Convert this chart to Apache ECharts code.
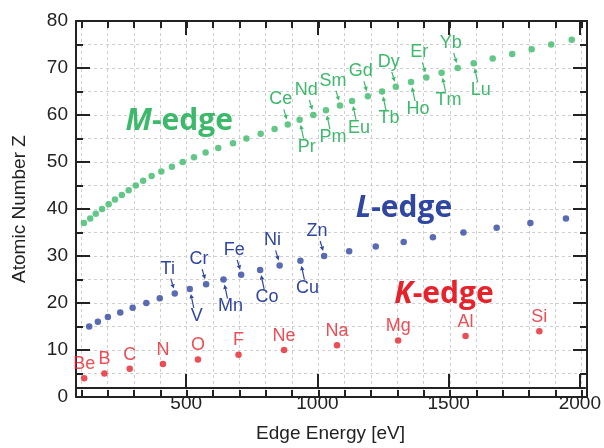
<!DOCTYPE html>
<html>
<head>
<meta charset="utf-8">
<script src="https://cdn.jsdelivr.net/npm/echarts@6/dist/echarts.min.js"></script>
<style>
  html, body { margin: 0; padding: 0; background: #fff; }
  #chart { width: 604px; height: 448px; }
</style>
</head>
<body>
<div id="chart"></div>
<script>
// K-edge energies (eV), Z = 4..14
const kSymbols = ['Be', 'B', 'C', 'N', 'O', 'F', 'Ne', 'Na', 'Mg', 'Al', 'Si'];
const kZ = [4, 5, 6, 7, 8, 9, 10, 11, 12, 13, 14];
const kEnergy = [111, 188, 284, 410, 543, 697, 870, 1071, 1303, 1559, 1839];

// L-edge energies (eV), Z = 15..38
const lSymbols = ['P', 'S', 'Cl', 'Ar', 'K', 'Ca', 'Sc', 'Ti', 'V', 'Cr', 'Mn', 'Fe',
  'Co', 'Ni', 'Cu', 'Zn', 'Ga', 'Ge', 'As', 'Se', 'Br', 'Kr', 'Rb', 'Sr'];
const lZ = [15, 16, 17, 18, 19, 20, 21, 22, 23, 24, 25, 26,
  27, 28, 29, 30, 31, 32, 33, 34, 35, 36, 37, 38];
const lEnergy = [130, 163, 201, 248, 295, 347, 398, 455, 512, 574, 640, 707,
  779, 853, 932, 1022, 1117, 1218, 1324, 1435, 1551, 1677, 1805, 1940];
const lLabeled = ['Ti', 'V', 'Cr', 'Mn', 'Fe', 'Co', 'Ni', 'Cu', 'Zn'];

// M-edge energies (eV), Z = 37..76
const mSymbols = ['Rb', 'Sr', 'Y', 'Zr', 'Nb', 'Mo', 'Tc', 'Ru', 'Rh', 'Pd',
  'Ag', 'Cd', 'In', 'Sn', 'Sb', 'Te', 'I', 'Xe', 'Cs', 'Ba',
  'La', 'Ce', 'Pr', 'Nd', 'Pm', 'Sm', 'Eu', 'Gd', 'Tb', 'Dy',
  'Ho', 'Er', 'Tm', 'Yb', 'Lu', 'Hf', 'Ta', 'W', 'Re', 'Os'];
const mZ = [37, 38, 39, 40, 41, 42, 43, 44, 45, 46,
  47, 48, 49, 50, 51, 52, 53, 54, 55, 56,
  57, 58, 59, 60, 61, 62, 63, 64, 65, 66,
  67, 68, 69, 70, 71, 72, 73, 74, 75, 76];
const mEnergy = [110, 134, 155, 179, 204, 228, 254, 280, 307, 335,
  367, 404, 444, 485, 528, 572, 620, 676, 727, 781,
  834, 884, 929, 981, 1029, 1082, 1128, 1188, 1242, 1294,
  1352, 1410, 1468, 1529, 1590, 1662, 1736, 1810, 1884, 1962];
const mLabeled = ['Ce', 'Pr', 'Nd', 'Pm', 'Sm', 'Eu', 'Gd', 'Tb', 'Dy',
  'Ho', 'Er', 'Tm', 'Yb', 'Lu'];

// Axis ticks
const xMajorTicks = [500, 1000, 1500, 2000];
const xMinorTicks = [100, 200, 300, 400, 500, 600, 700, 800, 900, 1000,
  1100, 1200, 1300, 1400, 1500, 1600, 1700, 1800, 1900, 2000];

const RED = '#e8222b';
const BLUE = '#2f47a0';
const GREEN = '#3cb96a';
const INK = '#222';
const FONT = '"Liberation Sans", Arial, sans-serif';
const TITLE_FONT = '"Open Sans", "DejaVu Sans", sans-serif';

function points(energy, z, symbols) {
  return energy.map((e, i) => [e, z[i], symbols[i]]);
}
function labeledPoints(energy, z, symbols, labeled) {
  const out = [];
  symbols.forEach((s, i) => {
    if (labeled.indexOf(s) >= 0) out.push([energy[i], z[i], s]);
  });
  return out;
}

const lTags = labeledPoints(lEnergy, lZ, lSymbols, lLabeled);
const mTags = labeledPoints(mEnergy, mZ, mSymbols, mLabeled);

// Element tag with a small arrow pointing at its marker:
// even Z sits above-left, odd Z below-right.
function renderTag(tags, color) {
  return function (params, api) {
    const tag = tags[params.dataIndex];
    const p = api.coord([tag[0], tag[1]]);
    const up = tag[1] % 2 === 0;
    const s = up ? -1 : 1;
    const tx = p[0] + s * 7, ty = p[1] + (up ? -25 : 27);
    const x1 = p[0] + s * 4, y1 = p[1] + (up ? -15 : 19);
    const x2 = p[0] + s * 1, y2 = p[1] + (up ? -5 : 5);
    const dx = x2 - x1, dy = y2 - y1;
    const len = Math.sqrt(dx * dx + dy * dy);
    const ux = dx / len, uy = dy / len;
    const hl = 4.5, hw = 2.2;
    const bx = x2 - ux * hl, by = y2 - uy * hl;
    return {
      type: 'group',
      children: [
        {
          type: 'text',
          style: {
            text: tag[2], x: tx, y: ty, align: 'center', verticalAlign: 'middle',
            fill: color, font: '18px ' + FONT
          }
        },
        {
          type: 'line',
          shape: { x1: x1, y1: y1, x2: bx, y2: by },
          style: { stroke: color, lineWidth: 1.2 }
        },
        {
          type: 'polygon',
          shape: { points: [[x2, y2], [bx - uy * hw, by + ux * hw], [bx + uy * hw, by - ux * hw]] },
          style: { fill: color }
        }
      ]
    };
  };
}

function edgeTitle(letter, color, coord) {
  return {
    symbol: 'circle', symbolSize: 0, silent: true,
    data: [{
      coord: coord,
      label: {
        show: true, position: 'inside',
        formatter: '{i|' + letter + '}{b|-edge}',
        rich: {
          i: { fontFamily: TITLE_FONT, fontSize: 30, fontWeight: 'bold', fontStyle: 'italic', color: color },
          b: { fontFamily: TITLE_FONT, fontSize: 30, fontWeight: 'bold', color: color }
        }
      }
    }]
  };
}

const dashed = { show: true, lineStyle: { color: '#cfcfcf', type: [3, 3], width: 1 } };
const inkLine = { color: INK, width: 2 };

function xAxisDef(grid, position, ticks, len, withLabels, withSplit) {
  return {
    type: 'value', gridIndex: grid, position: position, min: 80, max: 2020,
    axisLine: { show: true, onZero: false, lineStyle: inkLine },
    axisTick: { show: true, inside: true, length: len, customValues: ticks, lineStyle: inkLine },
    axisLabel: {
      show: withLabels, customValues: ticks, color: INK, fontSize: 19, fontFamily: FONT, margin: 6,
      formatter: v => String(v)
    },
    splitLine: withSplit ? dashed : { show: false },
    name: withLabels ? 'Edge Energy [eV]' : '',
    nameLocation: 'middle', nameGap: 36,
    nameTextStyle: { color: INK, fontSize: 19, fontFamily: FONT }
  };
}

function yAxisDef(grid, position, withLabels, show) {
  return {
    type: 'value', gridIndex: grid, position: position, min: 0, max: 80, interval: 10, show: show,
    axisLine: { show: true, onZero: false, lineStyle: inkLine },
    axisTick: { show: true, inside: true, length: 14, lineStyle: inkLine },
    minorTick: { show: true, splitNumber: 2, length: 7, lineStyle: inkLine },
    axisLabel: { show: withLabels, color: INK, fontSize: 19, fontFamily: FONT, margin: 8 },
    splitLine: withLabels ? dashed : { show: false },
    minorSplitLine: withLabels ? dashed : { show: false },
    name: withLabels ? 'Atomic Number Z' : '',
    nameLocation: 'middle', nameGap: 47,
    nameTextStyle: { color: INK, fontSize: 19, fontFamily: FONT }
  };
}

const plotRect = { left: 76, right: 17, top: 21, bottom: 51, containLabel: false };

const chart = echarts.init(document.getElementById('chart'), null, { renderer: 'canvas' });
chart.setOption({
  animation: false,
  backgroundColor: '#fff',
  grid: [Object.assign({}, plotRect), Object.assign({}, plotRect)],
  xAxis: [
    xAxisDef(0, 'bottom', xMinorTicks, 7, false, true),
    xAxisDef(0, 'top', xMinorTicks, 7, false, false),
    xAxisDef(1, 'bottom', xMajorTicks, 14, true, false),
    xAxisDef(1, 'top', xMajorTicks, 14, false, false)
  ],
  yAxis: [
    yAxisDef(0, 'left', true, true),
    yAxisDef(0, 'right', false, true),
    yAxisDef(1, 'left', false, false)
  ],
  series: [
    {
      name: 'K-edge', type: 'scatter', xAxisIndex: 0, yAxisIndex: 0,
      data: points(kEnergy, kZ, kSymbols),
      symbolSize: 6.5, itemStyle: { color: RED },
      label: {
        show: true, position: 'top', distance: 2,
        formatter: p => p.data[2], color: RED, fontSize: 18, fontFamily: FONT
      },
      markPoint: edgeTitle('K', RED, [1477, 21.9])
    },
    {
      name: 'L-edge', type: 'scatter', xAxisIndex: 0, yAxisIndex: 0,
      data: points(lEnergy, lZ, lSymbols),
      symbolSize: 6.5, itemStyle: { color: BLUE },
      markPoint: edgeTitle('L', BLUE, [1325, 40.1])
    },
    {
      name: 'M-edge', type: 'scatter', xAxisIndex: 0, yAxisIndex: 0,
      data: points(mEnergy, mZ, mSymbols),
      symbolSize: 6.5, itemStyle: { color: GREEN },
      markPoint: edgeTitle('M', GREEN, [472, 58.6])
    },
    {
      type: 'custom', xAxisIndex: 0, yAxisIndex: 0, silent: true,
      data: lTags, renderItem: renderTag(lTags, BLUE)
    },
    {
      type: 'custom', xAxisIndex: 0, yAxisIndex: 0, silent: true,
      data: mTags, renderItem: renderTag(mTags, GREEN)
    }
  ]
});
</script>
</body>
</html>
